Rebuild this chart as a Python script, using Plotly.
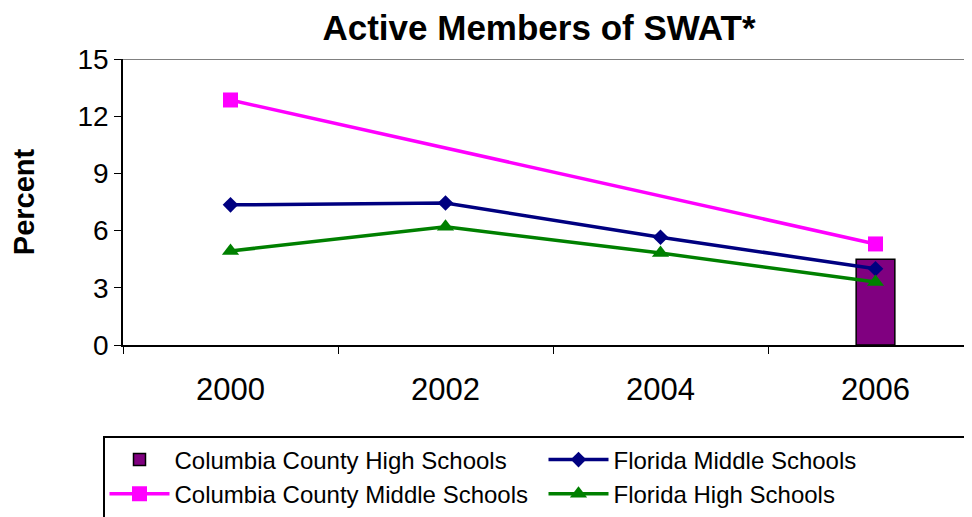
import plotly.graph_objects as go

years = ["2000", "2002", "2004", "2006"]
cc_high = [None, None, None, 4.5]
fl_middle = [7.35, 7.45, 5.65, 4.0]
cc_middle = [12.85, None, None, 5.3]
fl_high = [4.93, 6.2, 4.82, 3.3]

FONT = "Arial, Liberation Sans, sans-serif"

# page has an 8px body margin; figure coords = page coords - 8
W, H = 1000, 517
L, T = 115, 51
PLOT_R = 975
PLOT_B = 337

fig = go.Figure()
fig.add_trace(go.Bar(
    x=years, y=cc_high, name="Columbia County High Schools",
    marker=dict(color="#800080", line=dict(color="black", width=1.5)),
    width=0.18,
))
fig.add_trace(go.Scatter(
    x=years, y=fl_middle, name="Florida Middle Schools", mode="lines+markers",
    line=dict(color="#000080", width=3.5),
    marker=dict(symbol="diamond", size=12, color="#000080"),
))
fig.add_trace(go.Scatter(
    x=years, y=cc_middle, name="Columbia County Middle Schools", mode="lines+markers",
    connectgaps=True,
    line=dict(color="#FF00FF", width=3.5),
    marker=dict(symbol="square", size=15, color="#FF00FF"),
))
fig.add_trace(go.Scatter(
    x=years, y=fl_high, name="Florida High Schools", mode="lines+markers",
    line=dict(color="#008000", width=3.5),
    marker=dict(symbol="triangle-up", size=15, color="#008000"),
))

pw = PLOT_R - L
ph = PLOT_B - T

fig.update_layout(
    width=W, height=H,
    margin=dict(l=L, r=W - PLOT_R, t=T, b=H - PLOT_B, autoexpand=False),
    paper_bgcolor="white", plot_bgcolor="white",
    font=dict(family=FONT, color="black"),
    hovermode=False,
    title=dict(text="<b>Active Members of SWAT*</b>", font=dict(size=35, family=FONT),
               x=531/W, xanchor="center", xref="container",
               y=1 - 7/H, yanchor="top", yref="container", pad=dict(t=0, b=0)),
    showlegend=True,
    legend=dict(
        orientation="h", x=(95 - L)/pw, xanchor="left",
        y=(PLOT_B - 428)/ph, yanchor="top",
        bordercolor="black", borderwidth=1.5,
        font=dict(size=24, family=FONT),
        itemwidth=60,
        entrywidth=364, entrywidthmode="pixels",
        traceorder="normal",
    ),
    xaxis=dict(
        type="category", range=[-0.5, 3.5],
        showline=True, linecolor="black", linewidth=1.5,
        ticks="outside", ticklen=7, tickcolor="black", tickson="boundaries",
        showgrid=False, tickfont=dict(size=31, family=FONT),
        ticklabelstandoff=16,
    ),
    yaxis=dict(
        range=[0, 15], dtick=3, tick0=0,
        showline=True, linecolor="black", linewidth=1.5,
        ticks="outside", ticklen=7, tickcolor="black",
        showgrid=False, zeroline=False,
        tickfont=dict(size=28, family=FONT),
        title=dict(text="<b>Percent</b>", font=dict(size=29, family=FONT), standoff=44),
    ),
    shapes=[dict(type="line", xref="paper", yref="y", x0=0, x1=1, y0=15, y1=15,
                 line=dict(color="#808080", width=2))],
)

fig.write_html("out.html")
